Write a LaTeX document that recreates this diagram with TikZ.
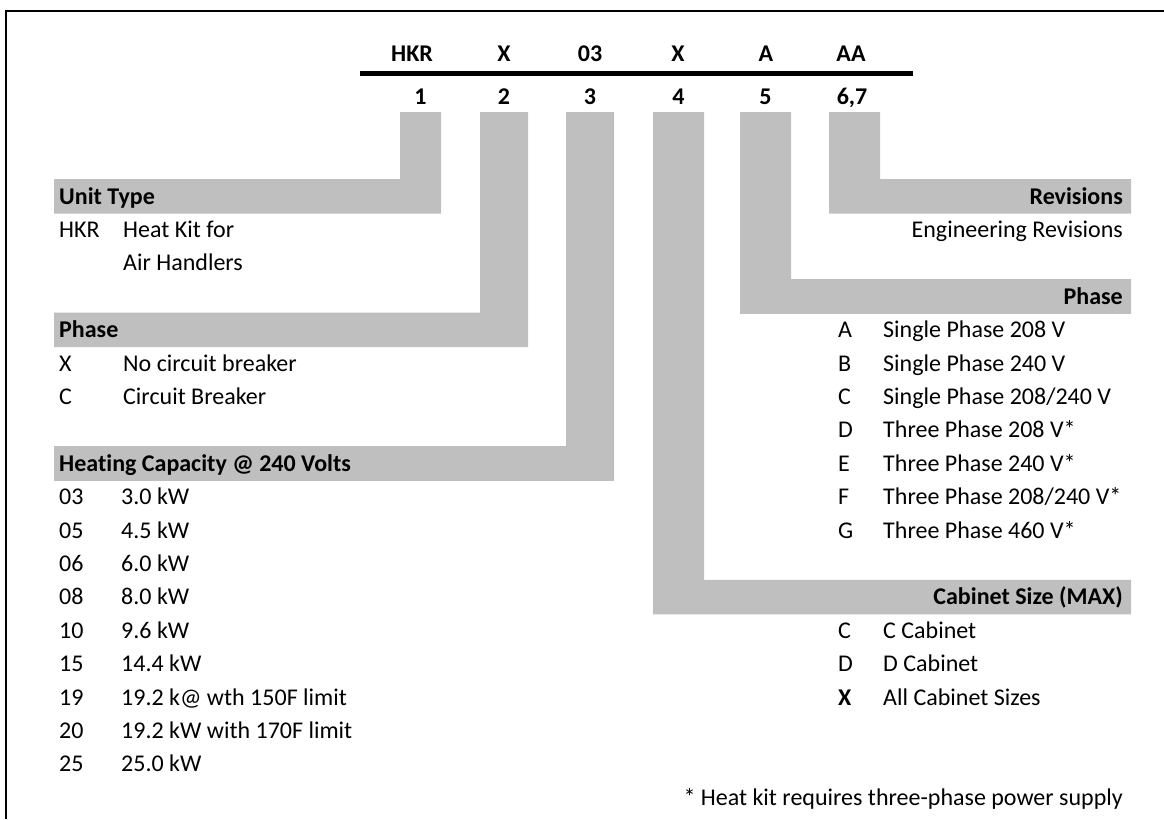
\documentclass[tikz,border=0pt]{standalone}
\usepackage{fontspec}
\setmainfont{Carlito}[Ligatures={NoCommon}]
\newcommand\myfs{\fontsize{24}{28}\selectfont}
\definecolor{bargray}{RGB}{191,191,191}
\tikzset{
  txt/.style={inner sep=0pt, anchor=base west, font=\myfs},
  txtr/.style={inner sep=0pt, anchor=base east, font=\myfs},
  hdl/.style={inner sep=0pt, anchor=base west, font=\myfs\bfseries},
  hdr/.style={inner sep=0pt, anchor=base east, font=\myfs\bfseries},
  code/.style={inner sep=0pt, anchor=base, font=\myfs\bfseries},
  bar/.style={fill=bargray, draw=none},
}
\begin{document}
\begin{tikzpicture}[x=1pt,y=-1pt]
\useasboundingbox (0,0) rectangle (1164,819);
% frame
\draw[line width=2.2pt] (6,819) -- (6,11) -- (1164,11);
% gray connector shapes
\fill[bar] (400,112) -- (441,112) -- (441,213.6) -- (54,213.6) -- (54,179) -- (400,179) -- cycle;
\fill[bar] (480,112) -- (528,112) -- (528,347.2) -- (54,347.2) -- (54,312.6) -- (480,312.6) -- cycle;
\fill[bar] (566,112) -- (614,112) -- (614,480.8) -- (54,480.8) -- (54,446.2) -- (566,446.2) -- cycle;
\fill[bar] (653,112) -- (704,112) -- (704,579.8) -- (1131,579.8) -- (1131,614.4) -- (653,614.4) -- cycle;
\fill[bar] (740,112) -- (791,112) -- (791,279.2) -- (1131,279.2) -- (1131,313.8) -- (740,313.8) -- cycle;
\fill[bar] (829,112) -- (880,112) -- (880,179) -- (1131,179) -- (1131,213.6) -- (829,213.6) -- cycle;
% heavy line
\coordinate (la) at (360,73.5);
\coordinate (lb) at (913,73.5);
\draw[line width=5pt] (la) -- (lb);
% codes
\node[code] (c1) at (412,61) {HKR};
\node[code] (c2) at (504,61) {X};
\node[code] (c3) at (590,61) {03};
\node[code] (c4) at (678,61) {X};
\node[code] (c5) at (766,61) {A};
\node[code] (c6) at (851,61) {AA};
\node[code] (n1) at (420.5,104) {1};
\node[code] (n2) at (504,104) {2};
\node[code] (n3) at (590,104) {3};
\node[code] (n4) at (678.5,104) {4};
\node[code] (n5) at (765.5,104) {5};
\node[code] (n6) at (852,104) {6,7};
% left: unit type
\node[hdl] (hUT) at (59,204) {Unit Type};
\node[txt] (uk) at (59,237.4) {HKR};
\node[txt] (ud1) at (123,237.4) {Heat Kit for};
\node[txt] (ud2) at (123,270.8) {Air Handlers};
% left: phase
\node[hdl] (hPL) at (59,337.6) {Phase};
\node[txt] (pk1) at (59,371) {X};
\node[txt] (pd1) at (123,371) {No circuit breaker};
\node[txt] (pk2) at (59,404.4) {C};
\node[txt] (pd2) at (123,404.4) {Circuit Breaker};
% left: heating capacity
\node[hdl] (hHC) at (59,471.2) {Heating Capacity @ 240 Volts};
\foreach \k/\d [count=\i] in {03/{3.0 kW},05/{4.5 kW},06/{6.0 kW},08/{8.0 kW},10/{9.6 kW},15/{14.4 kW},19/{19.2 k@ wth 150F limit},20/{19.2 kW with 170F limit},25/{25.0 kW}}{
  \node[txt] (hk\i) at (59,471.2+33.4*\i) {\k};
  \node[txt] (hd\i) at (121,471.2+33.4*\i) {\d};
}
% right: revisions
\node[hdr] (hRV) at (1123,204) {Revisions};
\node[txtr] (rv1) at (1123,237.4) {Engineering Revisions};
% right: phase
\node[hdr] (hPR) at (1123,304.2) {Phase};
\foreach \k/\d [count=\i] in {A/{Single Phase 208 V},B/{Single Phase 240 V},C/{Single Phase 208/240 V},D/{Three Phase 208 V*},E/{Three Phase 240 V*},F/{Three Phase 208/240 V*},G/{Three Phase 460 V*}}{
  \node[txt] (pk\i r) at (838,304.2+33.4*\i) {\k};
  \node[txt] (pd\i r) at (883,304.2+33.4*\i) {\d};
}
% right: cabinet size
\node[hdr] (hCS) at (1123,604.8) {Cabinet Size (MAX)};
\node[txt] (ck1) at (838,638.2) {C};
\node[txt] (cd1) at (883,638.2) {C Cabinet};
\node[txt] (ck2) at (838,671.6) {D};
\node[txt] (cd2) at (883,671.6) {D Cabinet};
\node[txt, font=\myfs\bfseries] (ck3) at (838,705) {X};
\node[txt] (cd3) at (883,705) {All Cabinet Sizes};
% footnote
\node[txtr] (fn) at (1123,805.2) {* Heat kit requires three-phase power supply};
\end{tikzpicture}
\end{document}
